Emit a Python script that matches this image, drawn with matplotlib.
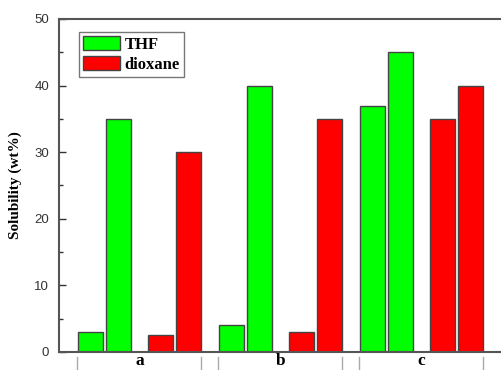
import matplotlib.pyplot as plt
import numpy as np

groups = ['a', 'b', 'c']
thf_1 = [3, 4, 37]
thf_2 = [35, 40, 45]
dioxane_1 = [2.5, 3, 35]
dioxane_2 = [30, 35, 40]

serif = ['Liberation Serif', 'DejaVu Serif']
plt.rcParams['font.family'] = ['Liberation Sans', 'DejaVu Sans']

fig = plt.figure(figsize=(5.02, 3.70), dpi=100)
ax = fig.add_axes([59 / 502, 18 / 370, 443 / 502, 333 / 370])

x = np.arange(len(groups))
w = 0.177
edge = '#444444'
ax.bar(x - 0.348, thf_1, w, color='#00ff00', edgecolor=edge, linewidth=1, label='THF')
ax.bar(x - 0.149, thf_2, w, color='#00ff00', edgecolor=edge, linewidth=1)
ax.bar(x + 0.149, dioxane_1, w, color='#ff0000', edgecolor=edge, linewidth=1, label='dioxane')
ax.bar(x + 0.348, dioxane_2, w, color='#ff0000', edgecolor=edge, linewidth=1)

ax.set_xlim(-0.571, 2.571)
ax.set_ylim(0, 50)
ax.set_yticks(np.arange(0, 51, 10))
ax.set_yticks(np.arange(5, 50, 10), minor=True)
ax.tick_params(axis='y', which='both', direction='in', labelsize=9.5, colors='#333333', pad=7)
ax.tick_params(axis='y', which='major', length=5, width=1)
ax.tick_params(axis='y', which='minor', length=3, width=1)
ax.set_xticks([])

for s in ['left', 'bottom', 'top']:
    ax.spines[s].set_color('#555555')
    ax.spines[s].set_linewidth(1.5)
ax.spines['right'].set_visible(False)

ax.set_ylabel('Solubility (wt%)', family=serif, fontweight='bold', fontsize=11, labelpad=9)

# group labels and bracket lines under the axis
for i, g in enumerate(groups):
    ax.text(i, -0.1, g, family=serif, fontweight='bold', fontsize=12.5,
            ha='center', va='top', transform=ax.transData)
    for xe in (i - 0.348 - w / 2 - 0.005, i + 0.348 + w / 2):
        ax.plot([xe, xe], [-0.015, -0.07], transform=ax.get_xaxis_transform(),
                color='#aaaaaa', linewidth=1, clip_on=False)

leg = ax.legend(loc='upper left', bbox_to_anchor=(0.045, 0.96), frameon=True, fancybox=False,
                prop={'family': serif, 'weight': 'bold', 'size': 12},
                handlelength=2.2, handleheight=0.9, borderpad=0.25, labelspacing=0.2,
                handletextpad=0.3, borderaxespad=0)
leg.get_frame().set_edgecolor('#555555')
leg.get_frame().set_linewidth(1)

fig.savefig('out.png', dpi=100)
